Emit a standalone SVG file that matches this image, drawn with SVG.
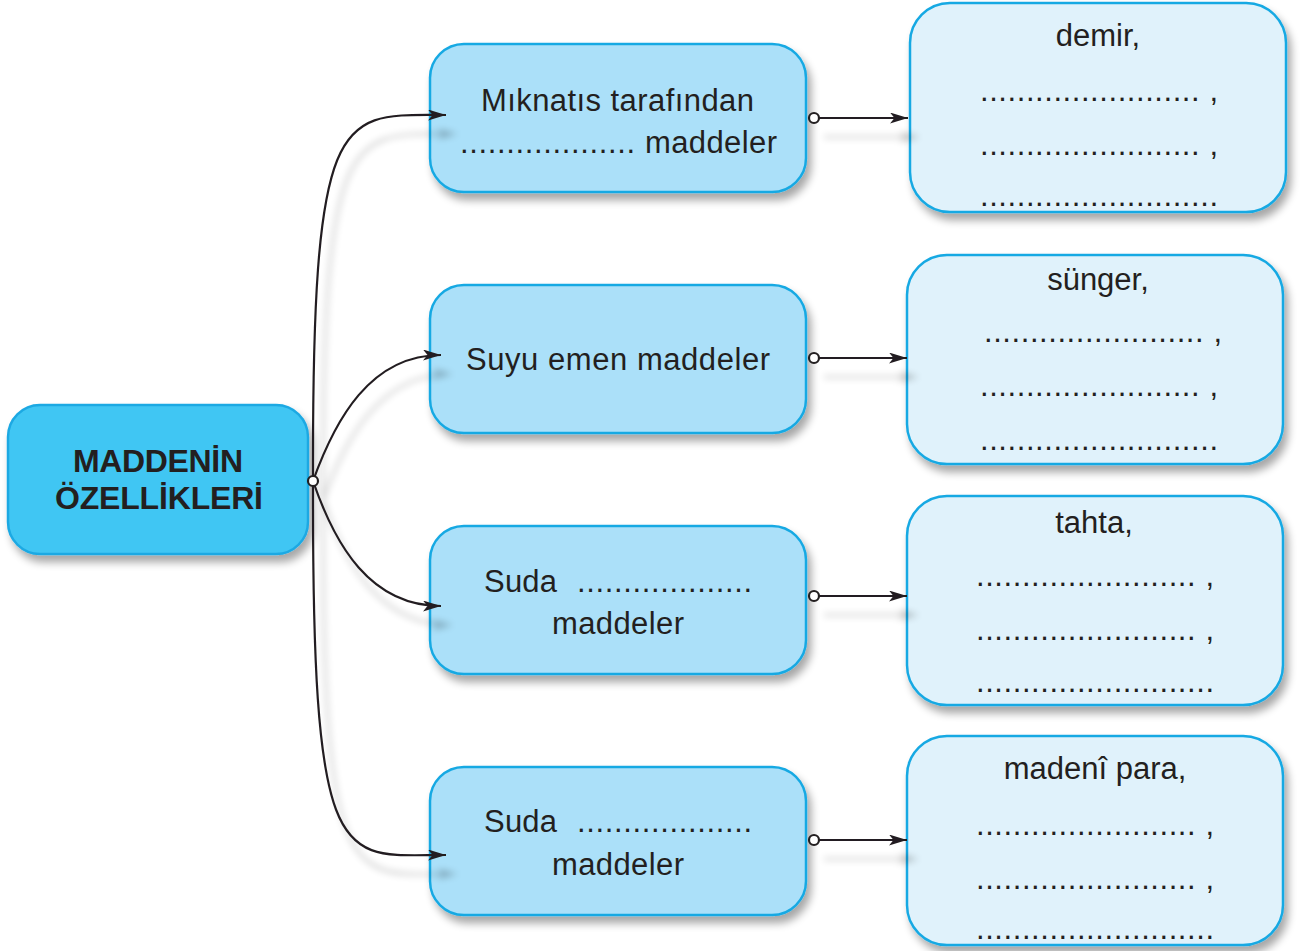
<svg xmlns="http://www.w3.org/2000/svg" width="1303" height="951" viewBox="0 0 1303 951">
<style>
text{font-family:"Liberation Sans",Arial,sans-serif;fill:#231f20;font-size:31px}
.mid{fill:#abe0f9;stroke:#18a9e3;stroke-width:2.5}
.right{fill:#e0f2fb;stroke:#18a9e3;stroke-width:2.5}
.main{fill:#40c6f3;stroke:#1ea9e3;stroke-width:2.5}
.c{fill:none;stroke:#231f20;stroke-width:2.2}
.dot{fill:#fff;stroke:#231f20;stroke-width:2.2}
.b{font-weight:bold;font-size:32px}
</style>
<defs>
<filter id="sh" x="-10%" y="-10%" width="130%" height="140%">
<feGaussianBlur in="SourceAlpha" stdDeviation="4"/>
<feOffset dx="4" dy="7" result="o"/>
<feComponentTransfer><feFuncA type="linear" slope="0.35"/></feComponentTransfer>
<feMerge><feMergeNode/><feMergeNode in="SourceGraphic"/></feMerge>
</filter>
<filter id="csh" x="-20%" y="-20%" width="140%" height="140%">
<feGaussianBlur in="SourceAlpha" stdDeviation="3.5"/>
<feOffset dx="10" dy="19"/>
<feComponentTransfer><feFuncA type="linear" slope="0.25"/></feComponentTransfer>
<feMerge><feMergeNode/><feMergeNode in="SourceGraphic"/></feMerge>
</filter>
<marker id="ar" viewBox="0 0 18 11" refX="18" refY="5.5" markerWidth="18" markerHeight="11" markerUnits="userSpaceOnUse" orient="auto">
<path d="M0,0 L18,5.5 L0,11 L4.5,5.5 Z" fill="#231f20"/>
</marker>
</defs>

<g id="n-main">
<rect class="main" x="8" y="405" width="300" height="149" rx="32" filter="url(#sh)"/>
<text class="b" x="158" y="472" text-anchor="middle" textLength="170">MADDENİN</text>
<text class="b" x="159" y="509" text-anchor="middle" textLength="208">ÖZELLİKLERİ</text>
</g>

<g id="n-m1">
<rect class="mid" x="430" y="44" width="376" height="148" rx="34" filter="url(#sh)"/>
<text x="481" y="111" textLength="273">Mıknatıs tarafından</text>
<text x="460" y="153" textLength="175">...................</text>
<text x="645" y="153" textLength="132">maddeler</text>
</g>
<g id="n-m2">
<rect class="mid" x="430" y="285" width="376" height="148" rx="34" filter="url(#sh)"/>
<text x="466" y="370" textLength="304">Suyu emen maddeler</text>
</g>
<g id="n-m3">
<rect class="mid" x="430" y="526" width="376" height="148" rx="34" filter="url(#sh)"/>
<text x="484" y="592" textLength="73">Suda</text>
<text x="577" y="592" textLength="175">...................</text>
<text x="552" y="634" textLength="132">maddeler</text>
</g>
<g id="n-m4">
<rect class="mid" x="430" y="767" width="376" height="148" rx="34" filter="url(#sh)"/>
<text x="484" y="832" textLength="73">Suda</text>
<text x="577" y="832" textLength="175">...................</text>
<text x="552" y="875" textLength="132">maddeler</text>
</g>

<g id="n-r1">
<rect class="right" x="910" y="3" width="376" height="209" rx="40" filter="url(#sh)"/>
<text x="1098" y="46" text-anchor="middle">demir,</text>
<text x="980" y="101" textLength="238">........................ ,</text>
<text x="980" y="155" textLength="238">........................ ,</text>
<text x="980" y="206" textLength="238">..........................</text>
</g>
<g id="n-r2">
<rect class="right" x="907" y="255" width="376" height="209" rx="40" filter="url(#sh)"/>
<text x="1098" y="290" text-anchor="middle">sünger,</text>
<text x="984" y="342" textLength="238">........................ ,</text>
<text x="980" y="396" textLength="238">........................ ,</text>
<text x="980" y="450" textLength="238">..........................</text>
</g>
<g id="n-r3">
<rect class="right" x="907" y="496" width="376" height="209" rx="40" filter="url(#sh)"/>
<text x="1094" y="533" text-anchor="middle">tahta,</text>
<text x="976" y="586" textLength="238">........................ ,</text>
<text x="976" y="640" textLength="238">........................ ,</text>
<text x="976" y="692" textLength="238">..........................</text>
</g>
<g id="n-r4">
<rect class="right" x="907" y="736" width="376" height="209" rx="40" filter="url(#sh)"/>
<text x="1095" y="779" text-anchor="middle">madenî para,</text>
<text x="976" y="835" textLength="238">........................ ,</text>
<text x="976" y="889" textLength="238">........................ ,</text>
<text x="976" y="939" textLength="238">..........................</text>
</g>

<g id="connectors" filter="url(#csh)">
<path class="c" d="M313,481 C312,100 340,115 446,115" marker-end="url(#ar)"/>
<path class="c" d="M313,481 C335,420 370,355 441,355" marker-end="url(#ar)"/>
<path class="c" d="M313,481 C335,545 370,606 441,606" marker-end="url(#ar)"/>
<path class="c" d="M313,481 C312,880 340,855 446,855" marker-end="url(#ar)"/>
<path class="c" d="M814,118 L908,118" marker-end="url(#ar)"/>
<path class="c" d="M814,358 L907,358" marker-end="url(#ar)"/>
<path class="c" d="M814,596 L907,596" marker-end="url(#ar)"/>
<path class="c" d="M814,840 L907,840" marker-end="url(#ar)"/>
</g>

<g id="ports">
<circle class="dot" cx="313" cy="481" r="5"/>
<circle class="dot" cx="814" cy="118" r="5"/>
<circle class="dot" cx="814" cy="358" r="5"/>
<circle class="dot" cx="814" cy="596" r="5"/>
<circle class="dot" cx="814" cy="840" r="5"/>
</g>
</svg>
